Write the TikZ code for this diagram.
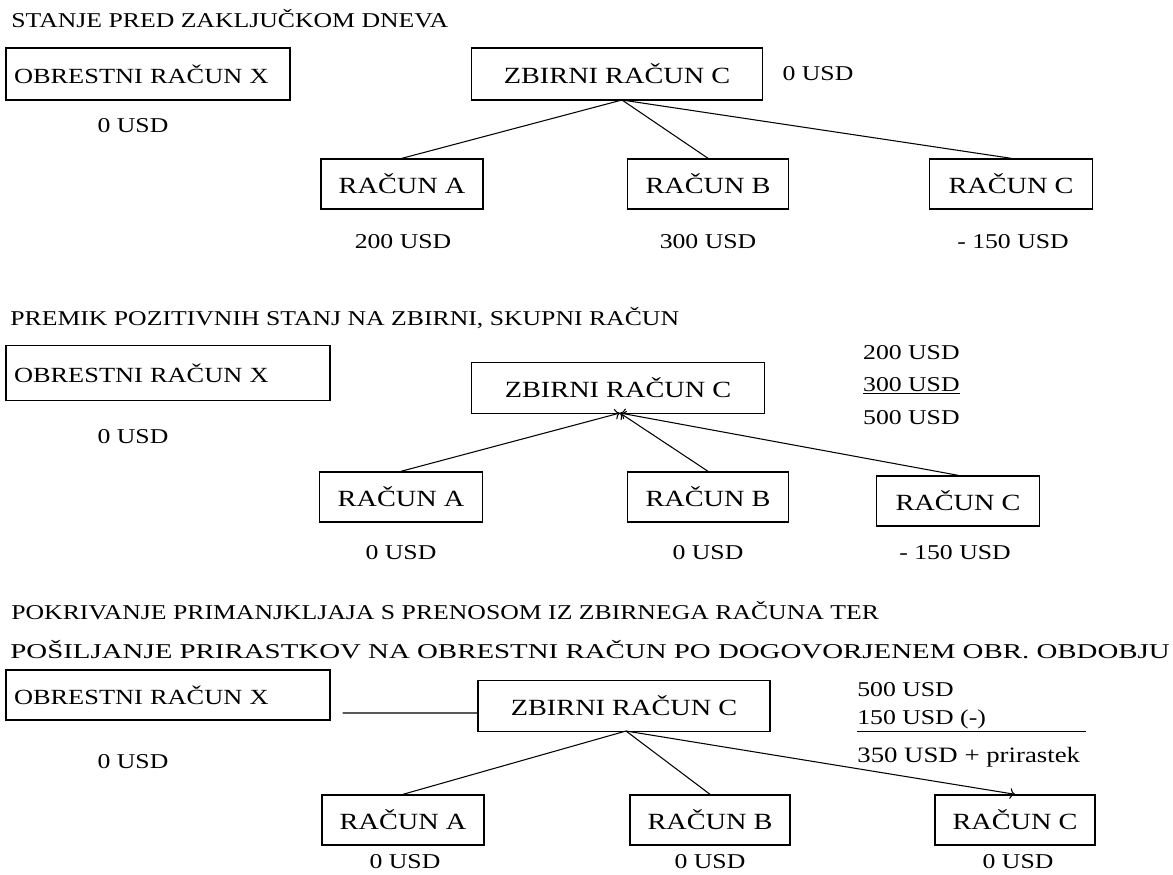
\documentclass[tikz,border=0pt]{standalone}
\usepackage{fontspec}
\setmainfont{Liberation Serif}[FakeStretch=1.22]
\newfontfamily\widefont{Liberation Serif}[FakeStretch=1.37]
\usetikzlibrary{arrows.meta, positioning}

\begin{document}
\begin{tikzpicture}[x=0.02cm, y=-0.02cm,
            box/.style={draw, rectangle, line width=0.8pt, inner sep=0pt, minimum height=1cm, font=\fontsize{13.2}{15}\selectfont},
            obox/.style={box, align=left, inner xsep=0.16cm, font=\fontsize{12.3}{14}\selectfont},
            txt/.style={inner sep=0pt, font=\fontsize{12}{14}\selectfont},
            ttl/.style={inner sep=0pt, anchor=west, font=\fontsize{12}{14}\selectfont}]
            \useasboundingbox (0,0) rectangle (1173,875);

            % stanje pred zakljuckom
            \node[ttl] (t1) at (11,19) {STANJE PRED ZAKLJUČKOM DNEVA};
            \node[obox, text width=5.36cm, minimum height=1.04cm] (ox1) at (148,74) {OBRESTNI RAČUN X};
            \node[box, minimum width=5.82cm, minimum height=1.04cm] (zb1) at (617,74) {ZBIRNI RAČUN C};
            \node[box, minimum width=3.24cm] (ra1) at (402,184) {RAČUN A};
            \node[box, minimum width=3.22cm] (rb1) at (708,184) {RAČUN B};
            \node[box, minimum width=3.26cm] (rc1) at (1011,184) {RAČUN C};
            \node[txt] (ox1v) at (133,126) {0 USD};
            \node[txt] (zb1v) at (818,74) {0 USD};
            \node[txt] (ra1v) at (403,242) {200 USD};
            \node[txt] (rb1v) at (708,242) {300 USD};
            \node[txt] (rc1v) at (1013,242) {- 150 USD};
            \coordinate (h1) at (622,100);
            \draw[semithick] (h1) -- (ra1.north);
            \draw[semithick] (h1) -- (rb1.north);
            \draw[semithick] (h1) -- (rc1.north);

            % premik pozitivnih stanj
            \node[ttl] (t2) at (10,318) {PREMIK POZITIVNIH STANJ NA ZBIRNI, SKUPNI RAČUN};
            \node[obox, text width=6.16cm, minimum height=1.1cm] (ox2) at (168,373) {OBRESTNI RAČUN X};
            \node[box, minimum width=5.86cm, minimum height=1.02cm] (zb2) at (618,388) {ZBIRNI RAČUN C};
            \node[box, minimum width=3.26cm] (ra2) at (401,497) {RAČUN A};
            \node[box, minimum width=3.22cm] (rb2) at (708,497) {RAČUN B};
            \node[box, minimum width=3.26cm] (rc2) at (958,501) {RAČUN C};
            \node[txt] (ox2v) at (133,437) {0 USD};
            \node[txt, anchor=east] (s1) at (960,353) {200 USD};
            \node[txt, anchor=east] (s2) at (960,386) {\underline{300 USD}};
            \node[txt, anchor=east] (s3) at (960,418) {500 USD};
            \node[txt] (ra2v) at (401,553) {0 USD};
            \node[txt] (rb2v) at (708,553) {0 USD};
            \node[txt] (rc2v) at (955,553) {- 150 USD};
            \coordinate (h2) at (620,413);
            \draw[semithick, ->] (ra2.north) -- (h2);
            \draw[semithick, ->] (rb2.north) -- (h2);
            \draw[semithick, ->] (rc2.north) -- (h2);

            % pokrivanje primanjkljaja
            \node[ttl] (t3) at (11,611) {POKRIVANJE PRIMANJKLJAJA S PRENOSOM IZ ZBIRNEGA RAČUNA TER};
            \node[ttl, font=\fontsize{12}{14}\widefont] (t4) at (10,650) {POŠILJANJE PRIRASTKOV NA OBRESTNI RAČUN PO DOGOVORJENEM OBR. OBDOBJU};
            \node[obox, text width=6.16cm] (ox3) at (168,695) {OBRESTNI RAČUN X};
            \node[box, minimum width=5.84cm, minimum height=1.02cm] (zb3) at (624,706) {ZBIRNI RAČUN C};
            \node[box, minimum width=3.24cm] (ra3) at (403,820) {RAČUN A};
            \node[box, minimum width=3.2cm] (rb3) at (710,820) {RAČUN B};
            \node[box, minimum width=3.2cm] (rc3) at (1015,820) {RAČUN C};
            \node[txt] (ox3v) at (133,762) {0 USD};
            \node[txt, anchor=west] (m1) at (857,690) {500 USD};
            \node[txt, anchor=west] (m2) at (857,719) {150 USD (-)};
            \node[txt, anchor=west, font=\fontsize{12.5}{14}\selectfont] (m3) at (857,757) {350 USD + prirastek};
            \node[txt] (ra3v) at (405,862) {0 USD};
            \node[txt] (rb3v) at (710,862) {0 USD};
            \node[txt] (rc3v) at (1018,862) {0 USD};
            \draw[semithick] (m2.south west) ++(0,3) -- ++(229,0);
            \draw[semithick] ([yshift=-0.36cm]ox3.east) ++(12,0) coordinate (l3) -- ([yshift=-0.14cm]zb3.west);
            \coordinate (h3) at (626,731);
            \draw[semithick] (h3) -- (ra3.north);
            \draw[semithick] (h3) -- (rb3.north);
            \draw[semithick, ->] (h3) -- (rc3.north);
        \end{tikzpicture}
\end{document}
